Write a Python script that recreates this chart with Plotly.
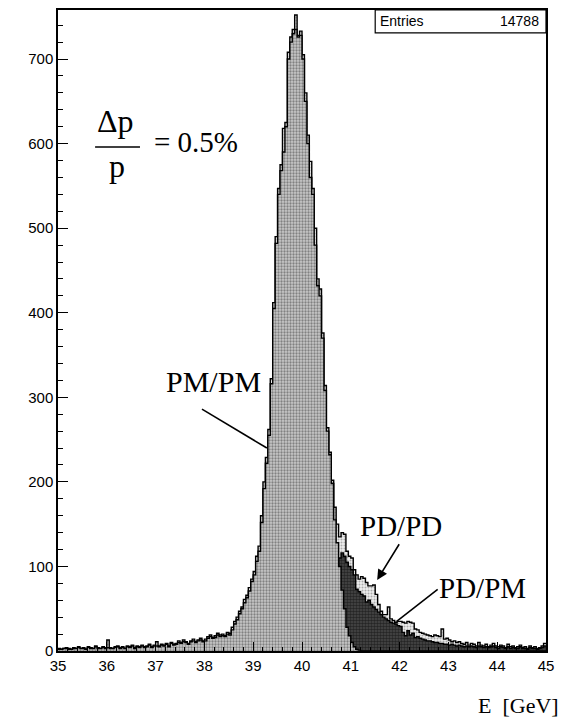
import plotly.graph_objects as go

# ---- data (0.05 GeV bins from 35 to 45 GeV) ----
bin_lo = 35.0
bin_w = 0.05

pd_pd = (
    [3, 2, 3, 4, 3, 2, 4, 3, 5, 3, 4, 2, 5, 4, 3, 6, 4, 3, 5, 4] +
    [13, 4, 3, 5, 6, 4, 5, 3, 6, 5, 7, 4, 6, 5, 7, 5, 6, 8, 5, 7] +
    [11, 6, 8, 7, 9, 6, 10, 8, 9, 12, 10, 13, 11, 9, 12, 14, 11, 13, 15, 12] +
    [14, 17, 19, 16, 18, 21, 19, 20, 18, 22, 21, 28, 35, 40, 47, 52, 61, 66, 75, 85] +
    [94, 112, 124, 160, 200, 229, 262, 322, 412, 490, 547, 575, 618, 625, 708, 726, 735, 752, 728, 733] +
    [705, 660, 610, 579, 547, 500, 440, 428, 376, 314, 264, 235, 202, 170, 150, 135, 140, 138, 118, 112] +
    [110, 96, 90, 85, 88, 86, 81, 77, 77, 78, 67, 55, 47, 43, 43, 52, 38, 36, 34, 35] +
    [35, 34, 33, 35, 34, 33, 26, 25, 22, 21, 20, 19, 18, 17, 19, 18, 17, 26, 14, 15] +
    [13, 11, 12, 10, 11, 9, 8, 10, 7, 9, 8, 6, 10, 7, 6, 8, 5, 7, 9, 6] +
    [5, 7, 6, 4, 8, 5, 6, 4, 5, 7, 4, 5, 3, 6, 4, 5, 3, 4, 6, 9]
)

pd_pm = (
    [1, 0, 1, 1, 0, 1, 1, 0, 1, 1, 1, 0, 1, 1, 0, 1, 1, 1, 0, 1] +
    [1, 1, 0, 1, 1, 1, 1, 0, 1, 1, 1, 1, 1, 1, 1, 1, 1, 2, 1, 1] +
    [2, 1, 2, 1, 2, 1, 2, 2, 2, 2, 2, 2, 3, 2, 3, 3, 2, 3, 3, 3] +
    [3, 3, 4, 3, 4, 4, 4, 4, 4, 5, 5, 5, 5, 6, 6, 6, 7, 7, 8, 8] +
    [9, 9, 10, 10, 11, 12, 12, 13, 14, 15, 16, 17, 18, 19, 20, 22, 24, 26, 28, 30] +
    [32, 34, 36, 38, 41, 44, 48, 52, 56, 60, 64, 70, 80, 90, 100, 110, 116, 112, 105, 100] +
    [96, 90, 73, 70, 67, 65, 58, 60, 55, 52, 49, 46, 43, 40, 38, 36, 34, 33, 32, 30] +
    [29, 22, 18, 24, 19, 21, 16, 17, 15, 14, 13, 12, 12, 11, 10, 10, 9, 9, 8, 8] +
    [7, 8, 7, 6, 7, 6, 5, 6, 5, 6, 5, 4, 6, 5, 4, 5, 4, 5, 6, 4] +
    [3, 5, 4, 3, 5, 3, 4, 3, 3, 5, 3, 3, 2, 4, 3, 3, 2, 3, 4, 6]
)

pm_pm = (
    [2, 2, 3, 3, 2, 2, 3, 3, 4, 3, 3, 2, 4, 3, 3, 5, 3, 3, 4, 3] +
    [4, 3, 3, 4, 5, 3, 4, 3, 5, 4, 6, 3, 5, 4, 6, 4, 5, 7, 4, 6] +
    [6, 5, 7, 6, 8, 5, 9, 7, 8, 10, 9, 11, 10, 8, 11, 12, 10, 12, 13, 11] +
    [12, 15, 17, 15, 16, 19, 17, 18, 17, 20, 19, 25, 32, 37, 44, 50, 57, 63, 71, 82] +
    [90, 106, 118, 152, 192, 222, 255, 316, 405, 482, 540, 568, 590, 620, 700, 720, 730, 735, 726, 728] +
    [700, 650, 600, 560, 540, 480, 432, 420, 370, 308, 260, 232, 198, 155, 128, 100, 72, 50, 28, 18] +
    [10, 5, 2, 1, 0, 0, 0, 0, 0, 0, 0, 0, 0, 0, 0, 0, 0, 0, 0, 0] +
    [0] * 20 + [0] * 20 + [0] * 20
)

x_ticks = [35, 36, 37, 38, 39, 40, 41, 42, 43, 44, 45]
y_ticks = [0, 100, 200, 300, 400, 500, 600, 700]
entries = "14788"


def step_xy(vals):
    n = len(vals)
    xs = [bin_lo + i * bin_w for i in range(n + 1)]
    ys = list(vals) + [vals[-1]]
    return xs, ys


fig = go.Figure()

styles = [
    ("PD/PD", pd_pd, dict(shape=".", fgcolor="#666666", bgcolor="#eeeeee", size=3, solidity=0.35)),
    ("PD/PM", pd_pm, dict(shape=".", fgcolor="#000000", bgcolor="#4a4a4a", size=3, solidity=0.55)),
    ("PM/PM", pm_pm, dict(shape=".", fgcolor="#3a3a3a", bgcolor="#c8c8c8", size=3, solidity=0.45)),
]
for name, vals, patt in styles:
    xs, ys = step_xy(vals)
    fig.add_trace(go.Scatter(
        x=xs, y=ys, name=name, mode="lines", line=dict(shape="hv", color="black", width=1.4),
        fill="tozeroy", fillcolor=patt["bgcolor"], fillpattern=patt, showlegend=False,
        hoverinfo="skip",
    ))

serif = "Liberation Serif, Times New Roman, serif"
sans = "Liberation Sans Narrow, Liberation Sans, Arial, sans-serif"

annotations = [
    dict(x=38.18, y=319, text="PM/PM", showarrow=False, font=dict(family=serif, size=30, color="black")),
    dict(x=42.03, y=148, text="PD/PD", showarrow=False, font=dict(family=serif, size=29, color="black")),
    dict(x=43.7, y=75, text="PD/PM", showarrow=False, font=dict(family=serif, size=29, color="black")),
    dict(x=41.54, y=84, ax=42.01, ay=128, axref="x", ayref="y", text="", showarrow=True,
         arrowhead=2, arrowsize=1.3, arrowwidth=1.6, arrowcolor="black", standoff=0, startstandoff=0),
    dict(x=36.18, y=627, text="Δp", showarrow=False, font=dict(family=serif, size=32, color="black")),
    dict(x=36.21, y=573, text="p", showarrow=False, font=dict(family=serif, size=32, color="black")),
    dict(x=37.83, y=602, text="= 0.5%", showarrow=False, font=dict(family=serif, size=29, color="black")),
    dict(x=41.56, y=745, text="Entries", showarrow=False, xanchor="left",
         font=dict(family=sans, size=14, color="black")),
    dict(x=44.9, y=745, text=entries, showarrow=False, xanchor="right",
         font=dict(family=sans, size=14, color="black")),
    dict(x=1.0, y=-0.082, xref="paper", yref="paper", text="E  [GeV]", showarrow=False,
         xanchor="center", yanchor="middle", xshift=-28, yshift=-2,
         font=dict(family=serif, size=22, color="black")),
]

shapes = [
    dict(type="line", x0=37.95, y0=286, x1=39.28, y1=240, line=dict(color="black", width=1.6)),
    dict(type="line", x0=42.78, y0=73, x1=41.94, y1=35, line=dict(color="black", width=1.6)),
    dict(type="line", x0=35.76, y0=596, x1=36.68, y1=596, line=dict(color="black", width=1.6)),
    dict(type="rect", x0=41.5, x1=45, y0=731, y1=758, line=dict(color="black", width=1.2),
         fillcolor="white", layer="above"),
]

fig.update_layout(
    width=565, height=728,
    margin=dict(l=58, r=19, t=8, b=77),
    plot_bgcolor="white", paper_bgcolor="white",
    annotations=annotations, shapes=shapes,
    xaxis=dict(range=[35, 45], tickvals=x_ticks, ticks="inside", ticklen=9, tickwidth=1,
               tickcolor="black", showline=True, linecolor="black", linewidth=1.5, mirror=True,
               showgrid=False, zeroline=False,
               minor=dict(dtick=0.2, ticks="inside", ticklen=4, tickcolor="black", showgrid=False),
               tickfont=dict(family=sans, size=15, color="black")),
    yaxis=dict(range=[0, 758], tickvals=y_ticks, ticks="inside", ticklen=10, tickwidth=1,
               tickcolor="black", showline=True, linecolor="black", linewidth=1.5, mirror=True,
               showgrid=False, zeroline=False,
               minor=dict(dtick=20, ticks="inside", ticklen=5, tickcolor="black", showgrid=False),
               tickfont=dict(family=sans, size=15, color="black")),
)

fig.write_html("out.html")
